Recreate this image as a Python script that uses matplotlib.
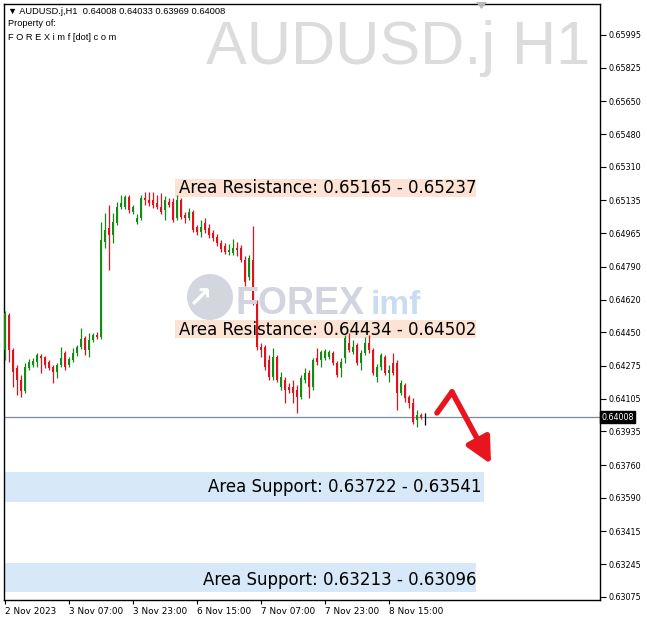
import matplotlib
matplotlib.use("Agg")
import matplotlib.pyplot as plt
from matplotlib.patches import Rectangle, Ellipse, Polygon
from matplotlib.transforms import blended_transform_factory

# ---------------- data (AUDUSD.j H1) ----------------
opens = [0.64358, 0.64540, 0.64358, 0.64265, 0.64203, 0.64145, 0.64265, 0.64280, 0.64296, 0.64327,
         0.64322, 0.64296, 0.64270, 0.64244, 0.64280, 0.64343, 0.64280, 0.64306, 0.64343, 0.64374,
         0.64421, 0.64358, 0.64410, 0.64436, 0.64426, 0.64920, 0.64992, 0.64956, 0.65018, 0.65101,
         0.65101, 0.65153, 0.65075, 0.65024, 0.65044, 0.65148, 0.65138, 0.65138, 0.65122, 0.65101,
         0.65086, 0.65127, 0.65127, 0.65044, 0.65138, 0.65060, 0.65044, 0.65075, 0.64998, 0.64972,
         0.65018, 0.64992, 0.64966, 0.64946, 0.64914, 0.64899, 0.64868, 0.64862, 0.64888, 0.64888,
         0.64826, 0.64738, 0.64826, 0.64603, 0.64374, 0.64374, 0.64306, 0.64218, 0.64322, 0.64166,
         0.64203, 0.64166, 0.64166, 0.64151, 0.64114, 0.64203, 0.64239, 0.64166, 0.64317, 0.64306,
         0.64317, 0.64322, 0.64343, 0.64291, 0.64265, 0.64317, 0.64395, 0.64348, 0.64384, 0.64291,
         0.64343, 0.64395, 0.64358, 0.64218, 0.64270, 0.64322, 0.64239, 0.64291, 0.64291, 0.64135,
         0.64177, 0.64114, 0.64083, 0.63995, 0.64021, 0.64008]
highs = [0.64561, 0.64551, 0.64369, 0.64280, 0.64229, 0.64291, 0.64312, 0.64317, 0.64343, 0.64338,
         0.64327, 0.64306, 0.64280, 0.64291, 0.64374, 0.64353, 0.64322, 0.64369, 0.64384, 0.64473,
         0.64431, 0.64447, 0.64447, 0.64452, 0.65024, 0.65070, 0.65112, 0.65070, 0.65127, 0.65164,
         0.65164, 0.65164, 0.65112, 0.65065, 0.65164, 0.65179, 0.65179, 0.65179, 0.65164, 0.65174,
         0.65159, 0.65148, 0.65148, 0.65164, 0.65148, 0.65075, 0.65096, 0.65086, 0.65008, 0.65034,
         0.65044, 0.65013, 0.64982, 0.64961, 0.64930, 0.64914, 0.64909, 0.64935, 0.64920, 0.64904,
         0.64847, 0.64852, 0.65003, 0.64618, 0.64395, 0.64384, 0.64332, 0.64369, 0.64332, 0.64244,
         0.64218, 0.64187, 0.64203, 0.64177, 0.64229, 0.64265, 0.64255, 0.64317, 0.64369, 0.64358,
         0.64364, 0.64358, 0.64353, 0.64301, 0.64317, 0.64436, 0.64447, 0.64410, 0.64395, 0.64358,
         0.64426, 0.64436, 0.64369, 0.64286, 0.64343, 0.64332, 0.64280, 0.64343, 0.64306, 0.64203,
         0.64187, 0.64125, 0.64109, 0.64047, 0.64031, 0.64033]
lows = [0.64306, 0.64296, 0.64166, 0.64125, 0.64114, 0.64135, 0.64255, 0.64270, 0.64270, 0.64239,
        0.64265, 0.64255, 0.64187, 0.64213, 0.64270, 0.64255, 0.64270, 0.64296, 0.64327, 0.64364,
        0.64332, 0.64322, 0.64400, 0.64416, 0.64416, 0.64888, 0.64774, 0.64914, 0.65008, 0.65091,
        0.65091, 0.65070, 0.65065, 0.65013, 0.65034, 0.65112, 0.65107, 0.65096, 0.65091, 0.65065,
        0.65034, 0.65101, 0.65024, 0.65034, 0.65039, 0.65018, 0.65034, 0.64972, 0.64956, 0.64946,
        0.64966, 0.64940, 0.64925, 0.64899, 0.64868, 0.64857, 0.64852, 0.64852, 0.64847, 0.64816,
        0.64691, 0.64722, 0.64592, 0.64358, 0.64322, 0.64255, 0.64203, 0.64203, 0.64192, 0.64151,
        0.64083, 0.64135, 0.64083, 0.64031, 0.64104, 0.64187, 0.64109, 0.64151, 0.64280, 0.64270,
        0.64306, 0.64312, 0.64280, 0.64218, 0.64218, 0.64291, 0.64348, 0.64338, 0.64280, 0.64255,
        0.64332, 0.64343, 0.64229, 0.64192, 0.64255, 0.64229, 0.64192, 0.64229, 0.64047, 0.64125,
        0.64088, 0.64057, 0.63974, 0.63958, 0.64000, 0.63969]
closes = [0.64551, 0.64358, 0.64244, 0.64203, 0.64145, 0.64270, 0.64296, 0.64301, 0.64332, 0.64317,
          0.64280, 0.64265, 0.64244, 0.64280, 0.64317, 0.64270, 0.64312, 0.64343, 0.64374, 0.64416,
          0.64358, 0.64410, 0.64436, 0.64426, 0.64930, 0.64982, 0.64956, 0.65024, 0.65101, 0.65122,
          0.65153, 0.65086, 0.65101, 0.65044, 0.65148, 0.65138, 0.65122, 0.65112, 0.65101, 0.65075,
          0.65138, 0.65112, 0.65034, 0.65138, 0.65050, 0.65044, 0.65075, 0.64982, 0.64972, 0.64998,
          0.64982, 0.64956, 0.64940, 0.64914, 0.64883, 0.64868, 0.64878, 0.64888, 0.64878, 0.64826,
          0.64712, 0.64836, 0.64603, 0.64374, 0.64358, 0.64270, 0.64218, 0.64322, 0.64203, 0.64218,
          0.64151, 0.64151, 0.64135, 0.64114, 0.64213, 0.64239, 0.64166, 0.64306, 0.64296, 0.64348,
          0.64353, 0.64348, 0.64291, 0.64229, 0.64296, 0.64421, 0.64358, 0.64374, 0.64291, 0.64343,
          0.64395, 0.64358, 0.64239, 0.64270, 0.64332, 0.64239, 0.64255, 0.64239, 0.64135, 0.64187,
          0.64109, 0.64083, 0.63984, 0.64021, 0.64010, 0.64008]

price_ticks = [0.65995, 0.65825, 0.65650, 0.65480, 0.65310, 0.65135, 0.64965, 0.64790, 0.64620,
               0.64450, 0.64275, 0.64105, 0.63935, 0.63760, 0.63590, 0.63415, 0.63245, 0.63075]
time_tick_bars = [0, 16, 32, 48, 64, 80, 96]
time_tick_labels = ["2 Nov 2023", "3 Nov 07:00", "3 Nov 23:00", "6 Nov 15:00",
                    "7 Nov 07:00", "7 Nov 23:00", "8 Nov 15:00"]
current_price = 0.64008

zone_labels = ["Area Resistance: 0.65165 - 0.65237", "Area Resistance: 0.64434 - 0.64502",
               "Area Support: 0.63722 - 0.63541", "Area Support: 0.63213 - 0.63096"]
zone_lo = [0.65153, 0.64421, 0.63567, 0.63101]
zone_hi = [0.65247, 0.64514, 0.63722, 0.63252]
zone_kind = ["res", "res", "sup", "sup"]

header = "\u25BC AUDUSD.j,H1  0.64008 0.64033 0.63969 0.64008"

# ---------------- figure ----------------
W, H = 647, 622
fig = plt.figure(figsize=(W / 100, H / 100), dpi=100)
fig.patch.set_facecolor("white")
ax = fig.add_axes([4 / W, 22 / H, 596 / W, 596 / H])
ax.set_xlim(-0.25, 148.75)
ax.set_ylim(0.63059, 0.66156)
ax.patch.set_alpha(0)

def px_x(px):
    return (px - 5) / 4.0

GREEN = "#148c14"
RED = "#e0121c"

# zones
zone_x = {0: (px_x(175), px_x(476)), 1: (px_x(175), px_x(476)),
          2: (-0.25, px_x(484)), 3: (-0.25, px_x(476))}
for k in range(4):
    x0, x1 = zone_x[k]
    col = "#fce3d3" if zone_kind[k] == "res" else "#d7e8f8"
    ax.add_patch(Rectangle((x0, zone_lo[k]), x1 - x0, zone_hi[k] - zone_lo[k],
                           facecolor=col, edgecolor="none", zorder=1))

# watermarks (behind everything)
fig.add_artist(Ellipse((210 / W, 1 - 297 / H), 46 / W, 46 / H, facecolor="#d3d6de",
                       edgecolor="none", zorder=0.5))
fig.text(200 / W, 1 - 299 / H, "\u2197", fontsize=21, color="white", ha="center",
         va="center", fontweight="bold", zorder=0.6)
fig.text(236 / W, 1 - 314 / H, "FOREX", fontsize=27, fontweight="bold", color="#d2d5df",
         family="Liberation Sans", ha="left", va="baseline", zorder=0.5)
fig.text(371 / W, 1 - 314 / H, "imf", fontsize=24, fontweight="bold", color="#c9dcf0",
         family="Liberation Sans", ha="left", va="baseline", zorder=0.5)
fig.text(590 / W, 1 - 64 / H, "AUDUSD.j H1", fontsize=44, color="#dcdcdc",
         family="Liberation Sans", ha="right", va="baseline", zorder=0.5)

# current price line
ax.axhline(current_price, color="#7d8a98", lw=0.9, zorder=2)

# candles
n = len(opens)
for i in range(n):
    o, h, l, c = opens[i], highs[i], lows[i], closes[i]
    if c > o:
        col = GREEN
    elif c < o:
        col = RED
    else:
        col = "black"
    ax.vlines(i, l, h, colors=col, lw=0.9, zorder=3)
    lo_b = min(o, c)
    hb = max(abs(c - o), 0.00002)
    ax.add_patch(Rectangle((i - 0.34, lo_b), 0.68, hb, facecolor=col, edgecolor="none", zorder=3))

# zone labels
label_pos = [(476, 188), (476, 330), (482, 487), (476, 580)]
for k in range(4):
    xr, yc = label_pos[k]
    fig.text(xr / W, 1 - yc / H, zone_labels[k], fontsize=12, color="black",
             family="DejaVu Sans", ha="right", va="center", zorder=5)

# red arrow
ax.plot([px_x(437), px_x(452)], [0.64031, 0.64140], color="#e8141e", lw=4,
        solid_capstyle="round", zorder=4)
ax.annotate("", xy=(px_x(491), 0.63765), xytext=(px_x(452), 0.64140),
            arrowprops=dict(arrowstyle="-|>,head_width=0.55,head_length=1.1", lw=4,
                            color="#e8141e", mutation_scale=14, shrinkA=0, shrinkB=0),
            zorder=4)

# axes styling
for s in ["left", "top", "right", "bottom"]:
    ax.spines[s].set_color("black")
    ax.spines[s].set_linewidth(1.0)
ax.yaxis.tick_right()
ax.set_yticks(price_ticks)
ax.set_yticklabels(["%.5f" % v for v in price_ticks])
ax.tick_params(axis="y", direction="out", length=4, width=0.8, pad=2, labelsize=5.8,
               labelfontfamily="DejaVu Sans", colors="black")
ax.set_xticks(time_tick_bars)
ax.set_xticklabels(time_tick_labels)
ax.tick_params(axis="x", direction="out", length=3, width=0.8, pad=2, labelsize=6.4,
               labelfontfamily="DejaVu Sans")
for t in ax.get_xticklabels():
    t.set_ha("left")

# current price tag
tr = blended_transform_factory(ax.transAxes, ax.transData)
ax.text(1.002, current_price, "%.5f" % current_price, transform=tr, fontsize=5.8,
        color="white", ha="left", va="center", family="DejaVu Sans", zorder=6,
        bbox=dict(boxstyle="square,pad=0.18", facecolor="black", edgecolor="black"))

# header
fig.text(8 / W, 1 - 12 / H, header, fontsize=6.7, family="Liberation Sans", va="center")
fig.text(8 / W, 1 - 24 / H, "Property of:", fontsize=6.7, family="Liberation Sans", va="center")
fig.text(8 / W, 1 - 37 / H, "F O R E X i m f [dot] c o m", fontsize=6.7,
         family="Liberation Sans", va="center")

# chart-shift marker
fig.add_artist(Polygon([[476 / W, 1 - 2 / H], [487 / W, 1 - 2 / H], [481.5 / W, 1 - 9 / H]],
                       closed=True, facecolor="#b8b8b8", edgecolor="none"))

fig.savefig("out.png", dpi=100)
